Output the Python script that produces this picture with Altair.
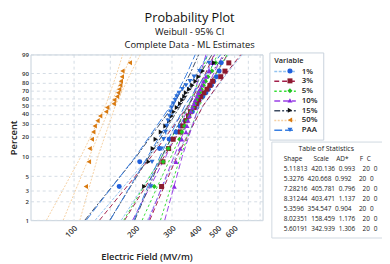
import math
import altair as alt
import pandas as pd

variables = ["1%", "3%", "5%", "10%", "15%", "50%", "PAA"]

# median-rank plotting positions (percent) for n = 20
plot_percent = [3.43, 8.33, 13.24, 18.14, 23.04, 27.94, 32.84, 37.75, 42.65, 47.55,
                52.45, 57.35, 62.25, 67.16, 72.06, 76.96, 81.86, 86.76, 91.67, 96.57]

# breakdown field (MV/m) of the ranked samples
field_1 = [167, 210, 262, 292, 315, 330, 348, 362, 378, 390, 400, 405, 425, 440, 452, 468, 480, 495, 510, 522]
field_3 = [268, 272, 290, 305, 330, 340, 352, 362, 370, 385, 395, 405, 415, 430, 445, 460, 474, 519, 544, 568]
field_5 = [247, 273, 289, 328, 336, 346, 356, 365, 372, 380, 388, 395, 402, 410, 418, 428, 438, 450, 470, 490]
field_10 = [309, 315, 330, 336, 352, 356, 360, 366, 372, 378, 385, 390, 398, 405, 412, 420, 428, 440, 457, 475]
field_15 = [221, 232, 243, 251, 266, 280, 292, 300, 307, 318, 330, 338, 346, 352, 365, 378, 392, 405, 425, 482]
field_50 = [115, 119, 120, 123, 125, 127, 131, 135, 144, 146, 157, 158, 163, 165, 167, 169, 170, 172, 173, 188]
field_paa = [238, 241, 268, 274, 280, 284, 288, 292, 296, 300, 306, 312, 318, 326, 338, 352, 368, 385, 410, 455]
series_fields = [field_1, field_3, field_5, field_10, field_15, field_50, field_paa]

# fitted lines (value at 1 % and 99 %)
fit_percent = [1, 99]
fit_1 = [171.0, 566.2]
fit_3 = [177.4, 560.3]
fit_5 = [215.7, 500.5]
fit_10 = [232.0, 484.8]
fit_15 = [150.3, 471.4]
fit_50 = [89.3, 191.7]
fit_paa = [150.9, 450.4]
series_fit = [fit_1, fit_3, fit_5, fit_10, fit_15, fit_50, fit_paa]

# 95 % confidence bounds
ci_percent = [1, 10, 50, 90, 99]
ci_low_1 = [127.7, 233.2, 359.0, 438.6, 484.5]
ci_up_1 = [229.0, 314.2, 426.1, 557.5, 661.7]
ci_low_3 = [134.0, 239.0, 361.7, 438.4, 482.4]
ci_up_3 = [234.8, 318.3, 426.4, 552.0, 650.8]
ci_low_5 = [175.7, 268.3, 363.4, 418.2, 448.6]
ci_up_5 = [264.8, 330.8, 409.9, 495.0, 558.4]
ci_low_10 = [193.9, 280.8, 366.3, 414.3, 440.5]
ci_up_10 = [277.6, 337.4, 407.0, 480.2, 533.6]
ci_low_15 = [113.7, 202.1, 305.1, 369.5, 406.2]
ci_up_15 = [198.6, 268.6, 359.3, 464.6, 547.0]
ci_low_50 = [74.1, 108.8, 143.3, 162.9, 173.6]
ci_up_50 = [107.6, 131.6, 159.9, 189.8, 211.7]
ci_low_paa = [115.6, 200.3, 297.0, 356.7, 390.6]
ci_up_paa = [197.0, 263.0, 347.4, 444.1, 519.3]
series_ci_low = [ci_low_1, ci_low_3, ci_low_5, ci_low_10, ci_low_15, ci_low_50, ci_low_paa]
series_ci_up = [ci_up_1, ci_up_3, ci_up_5, ci_up_10, ci_up_15, ci_up_50, ci_up_paa]

# table of statistics
table_header = ["Shape", "Scale", "AD*", "F", "C"]
shape_col = ["5.11813", "5.3276", "7.28216", "8.31244", "5.3596", "8.02351", "5.60191"]
scale_col = ["420.136", "420.668", "405.781", "403.471", "354.547", "158.459", "342.939"]
ad_col = ["0.993", "0.992", "0.796", "1.137", "0.904", "1.176", "1.306"]
f_col = ["20", "20", "20", "20", "20", "20", "20"]
c_col = ["0", "0", "0", "0", "0", "0", "0"]

y_ticks = [1, 2, 3, 5, 10, 20, 30, 40, 50, 60, 70, 80, 90, 99]
x_grid = [100, 150, 200, 300, 400, 500, 600, 700, 800]
x_domain = [62, 828]

marker_colors = ["#1f5fdc", "#8c1b2f", "#22c322", "#8b2be2", "#111111", "#d97a10", "#2b6ed8"]
marker_shapes = ["circle", "square", "diamond", "triangle-up", "triangle-right", "triangle-left", "triangle-down"]
line_colors = ["#93c3ef", "#a3214c", "#35dd35", "#9b40e6", "#3f4d63", "#f5d0a2", "#3a80e2"]
line_dashes = [[3, 1.5], [5, 3], [2.5, 2.5], [6, 3], [6, 2, 2, 2], [2, 1.5], [8, 3]]

# ---------- tables ----------
pts = []
for v, vals in zip(variables, series_fields):
    for p, x in zip(plot_percent, vals):
        pts.append({"variable": v, "percent": p, "field": x})
points_df = pd.DataFrame(pts)

lns = []
for v, fit, lo, up in zip(variables, series_fit, series_ci_low, series_ci_up):
    for p, x in zip(fit_percent, fit):
        lns.append({"variable": v, "line": v + " fit", "percent": p, "field": x})
    for p, x in zip(ci_percent, lo):
        lns.append({"variable": v, "line": v + " lo", "percent": p, "field": x})
    for p, x in zip(ci_percent, up):
        lns.append({"variable": v, "line": v + " up", "percent": p, "field": x})
lines_df = pd.DataFrame(lns)

# table rows as right-aligned text lines (figure spaces keep digit columns aligned)
FS = "\u2007"
col_chars = [7, 7, 5, 2, 1]
col_gaps = [FS, FS, FS * 2, FS]


def table_line(cells):
    out = ""
    for i, (cell, n) in enumerate(zip(cells, col_chars)):
        out += FS * max(0, n - len(cell)) + cell
        if i < len(col_gaps):
            out += col_gaps[i]
    return out


header_pads = [1, 2, 1, 1, 0]
header_line = ""
for i, (h, pad) in enumerate(zip(table_header, header_pads)):
    header_line += FS * pad + h
    if i < len(col_gaps):
        header_line += col_gaps[i]

table_lines = [header_line] + [
    table_line([shape_col[r], scale_col[r], ad_col[r], f_col[r], c_col[r]]) for r in range(len(shape_col))
]
table_df = pd.DataFrame({"row": table_lines})

y_domain = [math.log(-math.log(0.99)), math.log(-math.log(0.01))]
y_tick_vals = [math.log(-math.log(1 - p / 100.0)) for p in y_ticks]

FONT = "Open Sans"
weib = "log(-log(1 - datum.percent / 100))"

x_enc = alt.X("field:Q",
              scale=alt.Scale(type="log", domain=x_domain, nice=False),
              axis=alt.Axis(values=x_grid, format=".0f",
                            labelExpr="(datum.value == 150 || datum.value == 800) ? '' : datum.label",
                            labelAngle=315, labelPadding=4, ticks=False, domain=False,
                            grid=True, gridDash=[3, 3], gridColor="#d3dbe3",
                            title="Electric Field (MV/m)", titlePadding=13,
                            labelFontSize=8, labelFontWeight=600, titleFontSize=9.5, titleFontWeight=600))
y_enc = alt.Y("wy:Q",
              scale=alt.Scale(domain=y_domain, nice=False, zero=False),
              axis=alt.Axis(values=y_tick_vals,
                            labelExpr="format(100 * (1 - exp(-exp(datum.value))), '.0f')",
                            labelPadding=2, ticks=False, domain=False,
                            grid=True, gridDash=[3, 3], gridColor="#d3dbe3",
                            title="Percent", titlePadding=3,
                            labelFontSize=6.2, labelFontWeight=600, titleFontSize=9.5, titleFontWeight=600))

legend_title = FS * 8 + "Variable"
label_pad = FS * 5

line_legend = alt.Legend(title=legend_title, orient="none", legendX=244, legendY=-2,
                         symbolType="M-2.2,0L2.2,0", symbolSize=100, symbolStrokeWidth=1.5,
                         labelFont=FONT, labelFontSize=8, labelFontWeight=600, labelColor="#222",
                         labelExpr="datum.label + '" + label_pad + "'",
                         labelOffset=11, titleFont=FONT, titleFontSize=7.5, titleFontWeight=600,
                         titleColor="#222", titlePadding=1, padding=5, rowPadding=0,
                         strokeColor="#c8d2dc", symbolOffset=5)

mark_legend = alt.Legend(title=None, orient="none", legendX=244, legendY=8,
                         symbolSize=26, labelFontSize=8, labelExpr="''",
                         padding=5, rowPadding=2, symbolOffset=12)

table_legend = alt.Legend(title="Table of Statistics", orient="none", legendX=246, legendY=89,
                          rowPadding=3.2, symbolLimit=20, symbolSize=0, symbolOpacity=0,
                          labelOffset=2, labelFont=FONT, labelFontSize=6.6, labelColor="#222",
                          labelLimit=200,
                          titleFont=FONT, titleFontSize=7, titleFontWeight="normal", titleColor="#222",
                          titleAnchor="middle", titlePadding=4, padding=4, strokeColor="#d0d8e0")

lines = alt.Chart(lines_df).transform_calculate(wy=weib).mark_line(strokeWidth=1, clip=True).encode(
    x=x_enc, y=y_enc,
    detail="line:N",
    color=alt.Color("variable:N", scale=alt.Scale(domain=variables, range=line_colors), legend=line_legend),
    strokeDash=alt.StrokeDash("variable:N", scale=alt.Scale(domain=variables, range=line_dashes), legend=line_legend),
)

points = alt.Chart(points_df).transform_calculate(wy=weib).mark_point(filled=True, size=26, opacity=1).encode(
    x=x_enc, y=y_enc,
    color=alt.Color("variable:N", scale=alt.Scale(domain=variables, range=marker_colors), legend=mark_legend),
    shape=alt.Shape("variable:N", scale=alt.Scale(domain=variables, range=marker_shapes), legend=mark_legend),
)

table = alt.Chart(table_df).mark_point(opacity=0, size=1).encode(
    color=alt.Color("row:N", scale=alt.Scale(domain=table_lines, range=["#ffffff"]), legend=table_legend),
)

chart = alt.layer(lines, points, table).resolve_scale(
    color="independent", shape="independent", strokeDash="independent"
).properties(
    width=237, height=169.3,
    autosize=alt.AutoSizeParams(type="none"),
    padding={"left": 23, "top": 44.7, "right": 122, "bottom": 41},
    title=alt.Title("Probability Plot",
                    subtitle=["Weibull - 95% CI", "Complete Data - ML Estimates"],
                    font=FONT, fontSize=13, fontWeight="normal", color="#111",
                    subtitleFont=FONT, subtitleFontSize=9.5, subtitleColor="#111",
                    subtitleLineHeight=13, subtitlePadding=3, anchor="middle",
                    frame="group", dx=44, offset=2),
).configure_view(stroke="#c5d0da", strokeWidth=1).configure_axis(
    labelFont=FONT, titleFont=FONT, labelColor="#333", titleColor="#222"
)

chart.save("out.html", embed_options={"renderer": "svg", "actions": False})
